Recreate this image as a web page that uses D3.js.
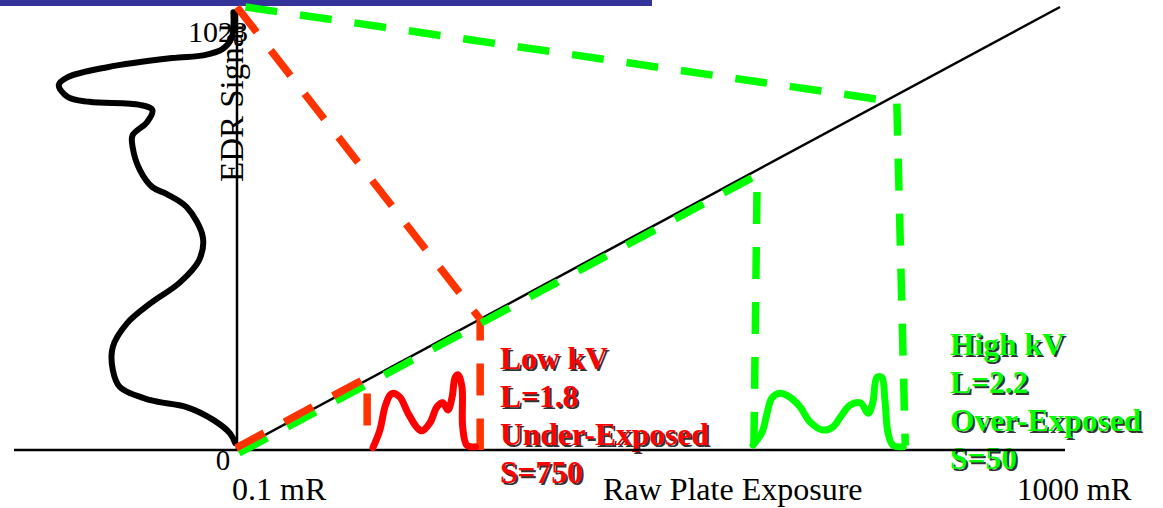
<!DOCTYPE html>
<html>
<head>
<meta charset="utf-8">
<script src="https://cdn.jsdelivr.net/npm/d3@7"></script>
<style>
  html, body { margin: 0; padding: 0; background: #fff; }
  svg { display: block; }
  text { font-family: "Liberation Serif", "Times New Roman", serif; }
</style>
</head>
<body>
<svg id="chart" width="1163" height="508"></svg>
<script>
// ---- data -------------------------------------------------------------
const exposureDomain = [0.1, 1000];      // mR, log axis
const signalDomain = [0, 1023];          // EDR signal
const exposureTickLabels = ["0.1 mR", "1000 mR"];
const signalTickLabels = ["0", "1023"];

// plate characteristic: signal grows linearly with log exposure
const responseCurve = [[0.1, 0], [1000, 1023]];

// histogram of the processed EDR signal: [relative count, signal]
const edrHistogram = [
  [2, 1011], [3, 951], [8, 926], [18, 912], [36, 905], [72, 884], [94, 861],
  [99, 843], [94, 815], [82, 804], [54, 797], [47, 785], [50, 757], [58, 727],
  [58, 700], [54, 647], [47, 607], [39, 591], [28, 561], [19, 492], [21, 439],
  [32, 386], [48, 339], [61, 293], [69, 238], [69, 185], [65, 145], [48, 115],
  [28, 99], [13, 69], [4, 39], [1, 16]
];

// raw exposure histograms: [exposure mR, relative count]
const lowKvHistogram = [
  [0.458, 3], [0.495, 25], [0.524, 54], [0.555, 69], [0.573, 71], [0.619, 66],
  [0.678, 46], [0.750, 28], [0.793, 24], [0.867, 34], [0.938, 54], [1.00, 59],
  [1.06, 50], [1.11, 66], [1.15, 91], [1.19, 94], [1.24, 79], [1.25, 29],
  [1.31, 6], [1.44, 4]
];
const highKvHistogram = [
  [32.2, 6], [35.6, 22], [37.7, 46], [39.8, 65], [43.6, 71], [48.7, 66],
  [54.5, 54], [61.0, 35], [70.5, 25], [78.9, 29], [87.1, 44], [95.3, 56],
  [107, 59], [117, 46], [123, 59], [129, 91], [136, 91], [141, 62],
  [146, 21], [154, 6], [173, 4]
];

// rescaling guides: exposure window -> full signal range [exposure, signal]
const lowKvUpperGuide = [[0.1, 1023], [1.52, 302], [1.52, 0]];
const lowKvLowerGuide = [[0.1, 0], [0.434, 163], [0.434, 0]];
const highKvUpperGuide = [[0.11, 1023], [149, 806], [161, 804], [177, 10]];
const highKvLowerGuide = [[0.1, 0], [33, 642], [31.8, 10]];

const lowKvLabels = ["Low kV", "L=1.8", "Under-Exposed", "S=750"];
const highKvLabels = ["High kV", "L=2.2", "Over-Exposed", "S=50"];
const xAxisTitle = "Raw Plate Exposure";
const yAxisTitle = "EDR Signal";

// ---- scales -----------------------------------------------------------
const svg = d3.select("#chart");
const x = d3.scaleLog().domain(exposureDomain).range([237, 1060]);
const y = d3.scaleLinear().domain(signalDomain).range([450, 7]);
const countX = d3.scaleLinear().domain([0, 100]).range([237, 57]);   // left histogram, grows leftwards
const countY = d3.scaleLinear().domain([0, 100]).range([450, 370]);  // exposure histograms

const RED = "#ff0000", ORANGE = "#ff3300", GREEN = "#00ff00";

// title band
svg.append("rect").attr("x", 0).attr("y", 0).attr("width", 652).attr("height", 6).attr("fill", "#333399");

// ---- annotation blocks ------------------------------------------------
function labelBlock(lines, x0, y0, color) {
  const g = svg.append("g").attr("font-weight", "bold").attr("font-size", 31.5);
  lines.forEach((t, i) => {
    g.append("text").attr("x", x0 + 2).attr("y", y0 + i * 38 + 2).attr("fill", "#333").text(t);
    g.append("text").attr("x", x0).attr("y", y0 + i * 38).attr("fill", color).text(t);
  });
}
labelBlock(lowKvLabels, 500, 369, RED);
labelBlock(highKvLabels, 950, 355, GREEN);

// ---- tick and axis labels ---------------------------------------------
svg.append("text").attr("x", 248).attr("y", 42).attr("text-anchor", "end")
  .attr("font-size", 30).text(signalTickLabels[1]);
svg.append("text").attr("x", 223).attr("y", 470).attr("text-anchor", "middle")
  .attr("font-size", 29).text(signalTickLabels[0]);
svg.append("text").attr("x", x(exposureDomain[0]) - 5).attr("y", 500)
  .attr("font-size", 32).text(exposureTickLabels[0]);
svg.append("text").attr("x", x(exposureDomain[1]) - 43).attr("y", 500)
  .attr("font-size", 31).text(exposureTickLabels[1]);
svg.append("text").attr("x", 603).attr("y", 500)
  .attr("font-size", 32).text(xAxisTitle);

// EDR signal histogram on the left
const edrLine = d3.line().x(d => countX(d[0])).y(d => y(d[1])).curve(d3.curveCatmullRom.alpha(0.5));
svg.append("path").datum(edrHistogram).attr("d", edrLine)
  .attr("fill", "none").attr("stroke", "#000").attr("stroke-width", 6)
  .attr("stroke-linecap", "round").attr("stroke-linejoin", "round");

svg.append("text").attr("transform", `translate(243,182) rotate(-90)`)
  .attr("font-size", 33).text(yAxisTitle);

// ---- axes -------------------------------------------------------------
svg.append("line").attr("x1", x(exposureDomain[0])).attr("x2", x(exposureDomain[0]))
  .attr("y1", y(1023) + 3).attr("y2", y(0)).attr("stroke", "#000").attr("stroke-width", 2.5);
svg.append("line").attr("x1", 14).attr("x2", 1065).attr("y1", y(0)).attr("y2", y(0))
  .attr("stroke", "#000").attr("stroke-width", 2.5);

// response line
const dataLine = d3.line().x(d => x(d[0])).y(d => y(d[1]));
svg.append("path").datum(responseCurve).attr("d", dataLine)
  .attr("fill", "none").attr("stroke", "#000").attr("stroke-width", 2.5);

// ---- rescaling guides -------------------------------------------------
function guide(data, color, dx, dy) {
  svg.append("path").datum(data).attr("d", dataLine)
    .attr("transform", `translate(${dx},${dy})`)
    .attr("fill", "none").attr("stroke", color).attr("stroke-width", 7.5)
    .attr("stroke-dasharray", "32,23");
}
guide(lowKvUpperGuide, ORANGE, 0, 0);
guide(highKvUpperGuide, GREEN, 0, 0);
guide(highKvLowerGuide, GREEN, 2, 3);
guide(lowKvLowerGuide, ORANGE, -1, -2);

// ---- exposure histograms ----------------------------------------------
const histLine = d3.line().x(d => x(d[0])).y(d => countY(d[1])).curve(d3.curveCatmullRom.alpha(0.5));
[[lowKvHistogram, RED], [highKvHistogram, GREEN]].forEach(([data, color]) => {
  svg.append("path").datum(data).attr("d", histLine)
    .attr("fill", "none").attr("stroke", color).attr("stroke-width", 7)
    .attr("stroke-linecap", "round").attr("stroke-linejoin", "round");
});
</script>
</body>
</html>
